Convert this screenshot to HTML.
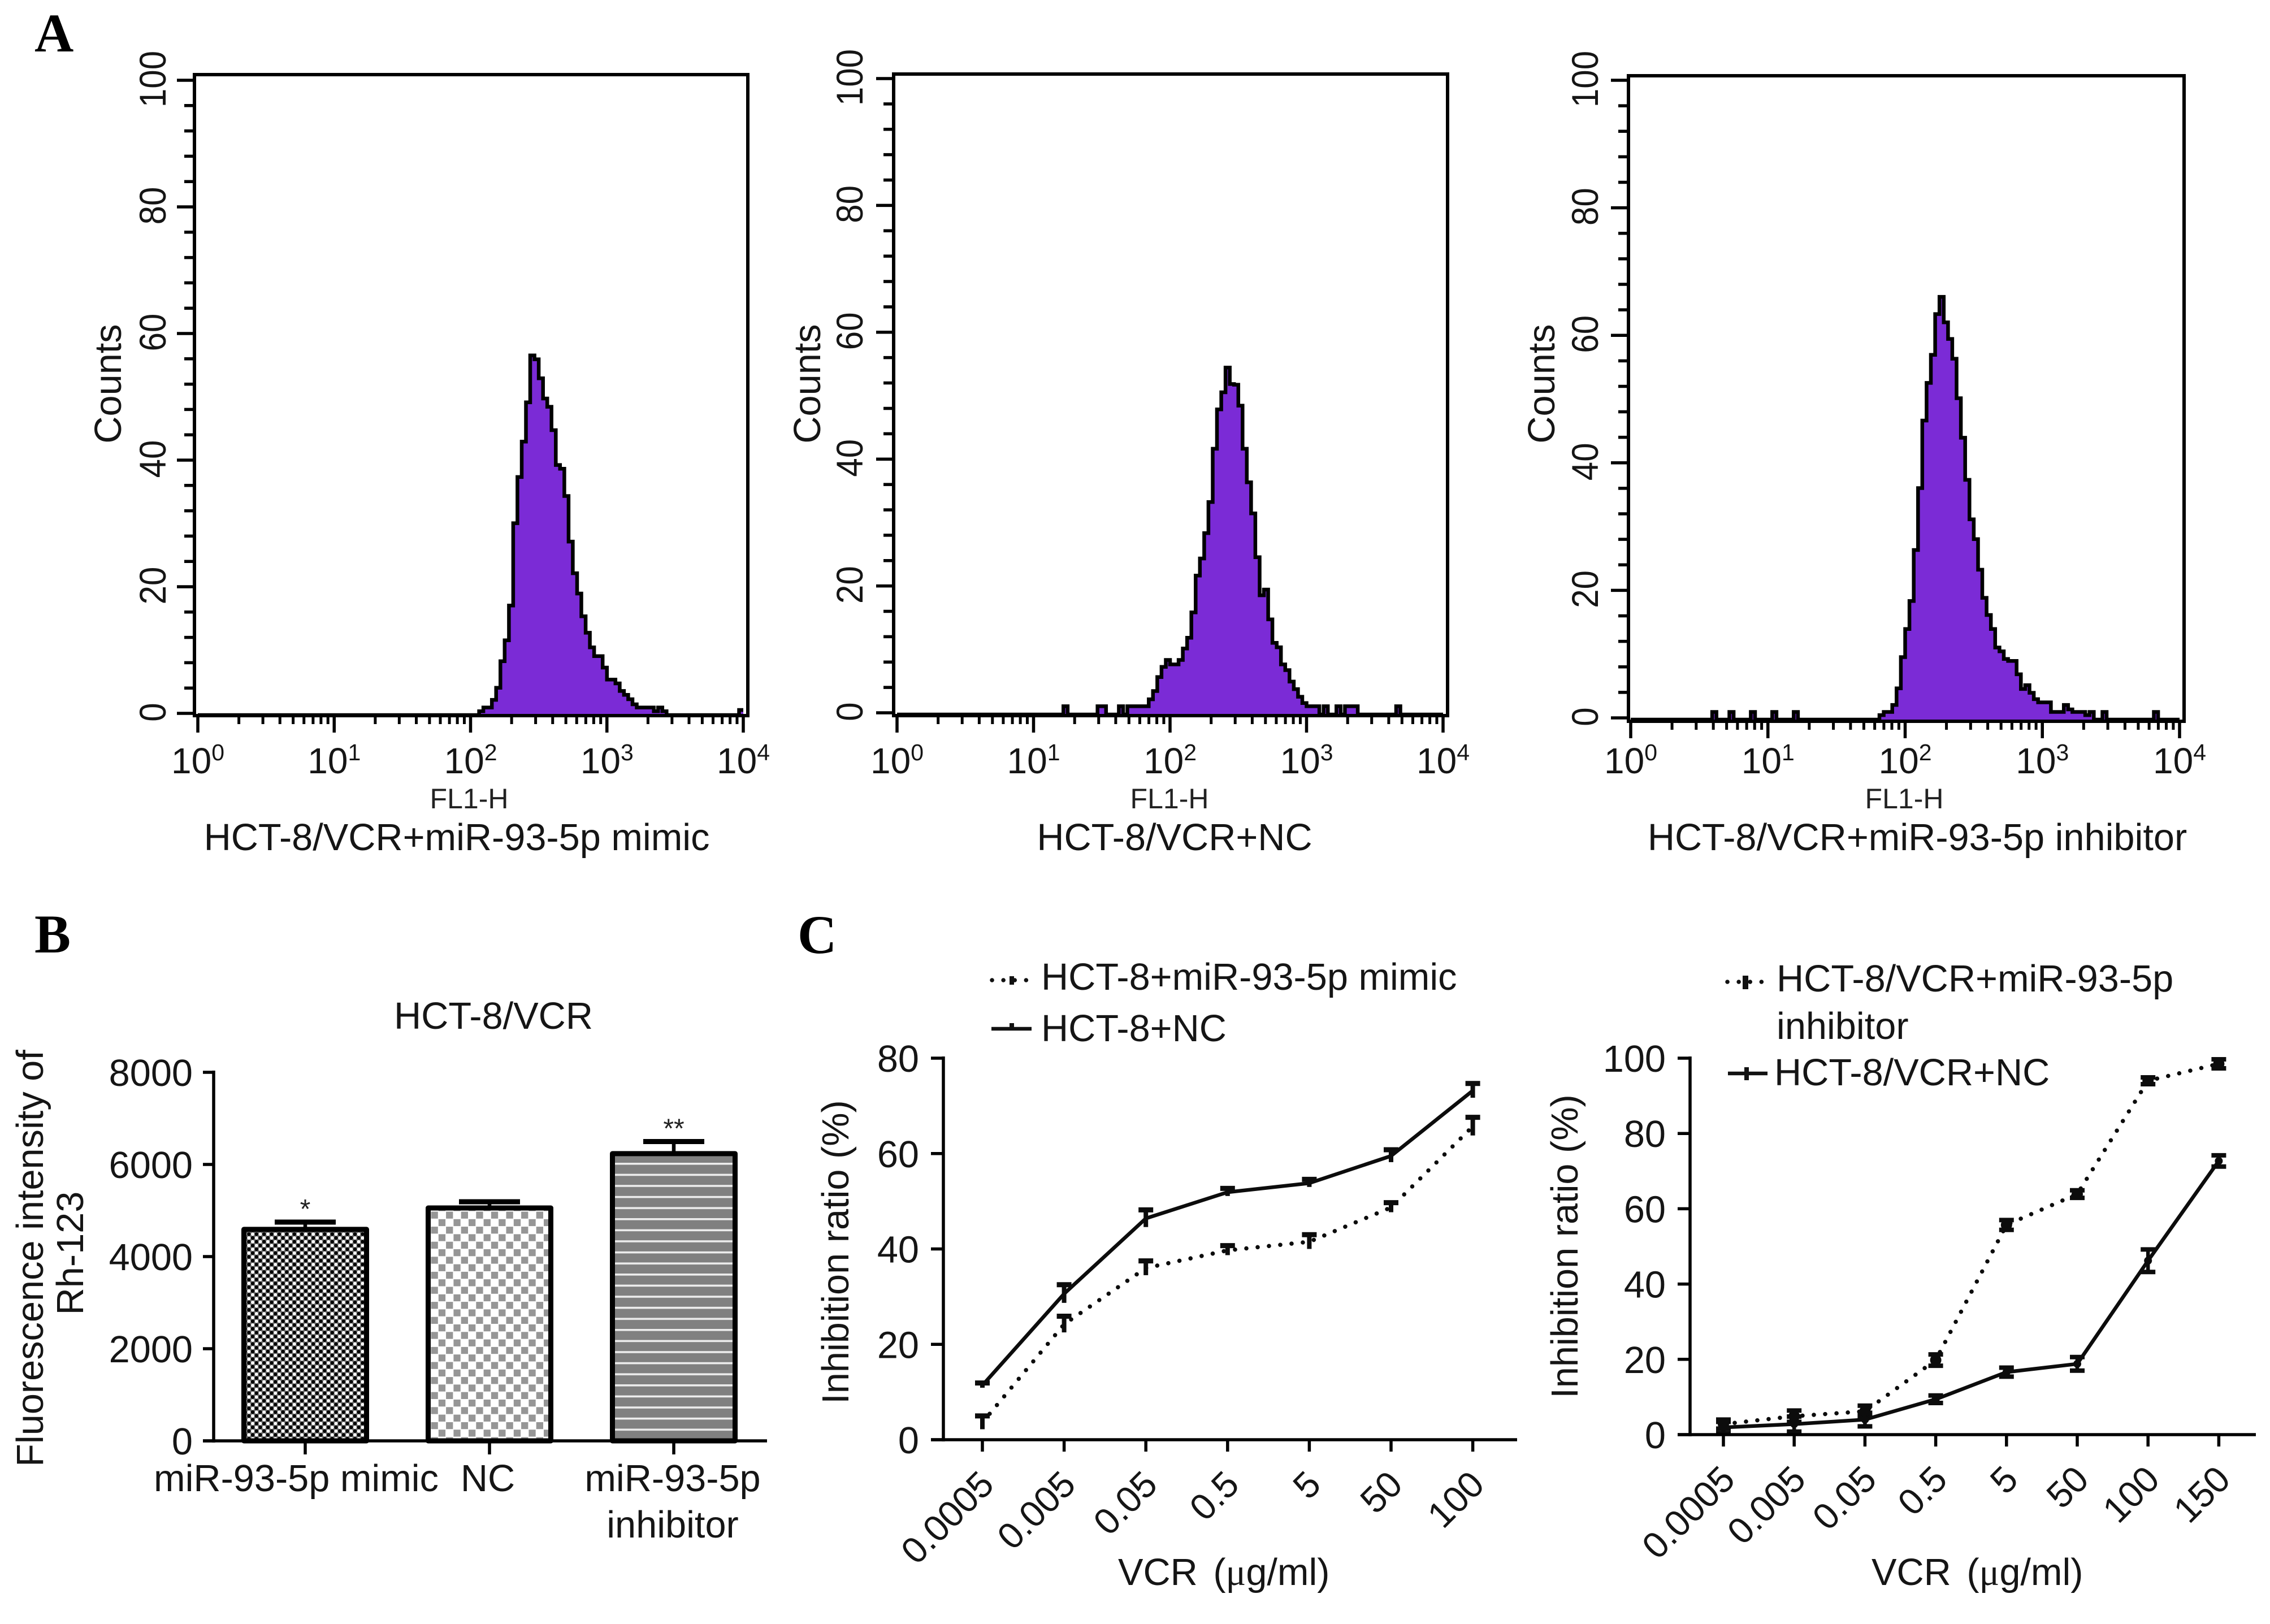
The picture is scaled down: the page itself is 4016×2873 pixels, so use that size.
<!DOCTYPE html>
<html>
<head>
<meta charset="utf-8">
<title>Flow cytometry, fluorescence and inhibition charts</title>
<style>
html,body{margin:0;padding:0;background:#fff;width:4016px;height:2873px;overflow:hidden}
svg{display:block}
text{font-family:"Liberation Sans",Arial,sans-serif;fill:#151515}
.l{font-size:66.7px}
.letter{font-family:"Liberation Serif",serif;font-weight:bold;font-size:96px;fill:#000}
.fl{font-size:50px;fill:#222}
.greek{font-family:"Liberation Serif",serif}
</style>
</head>
<body>
<svg id="figure" xmlns="http://www.w3.org/2000/svg" width="4016" height="2873" viewBox="0 0 4016 2873">
  <defs>
    <pattern id="pat-fine" patternUnits="userSpaceOnUse" width="13.4" height="13.4" x="437" y="2180">
      <rect width="13.4" height="13.4" fill="#6f6f6f"/>
      <circle cx="3.35" cy="3.35" r="3.2" fill="#000"/>
      <circle cx="10.05" cy="10.05" r="3.2" fill="#000"/>
      <circle cx="10.05" cy="3.35" r="3" fill="#fff"/>
      <circle cx="3.35" cy="10.05" r="3" fill="#fff"/>
    </pattern>
    <pattern id="pat-check" patternUnits="userSpaceOnUse" width="26.6" height="26.6" x="762" y="2143">
      <rect width="26.6" height="26.6" fill="#fff"/>
      <rect x="0.5" y="0.5" width="12.3" height="12.3" fill="#969696"/>
      <rect x="13.8" y="13.8" width="12.3" height="12.3" fill="#969696"/>
    </pattern>
    <pattern id="pat-stripe" patternUnits="userSpaceOnUse" width="10" height="19.6" x="0" y="2057">
      <rect width="10" height="19.6" fill="#808080"/>
      <rect y="0" width="10" height="3.6" fill="#ececec"/>
    </pattern>
  </defs>

  <g id="layer-hist"></g>
  <g id="layer-bar"></g>
  <g id="layer-line-left"></g>
  <g id="layer-line-right"></g>

  <text class="letter" x="61" y="91">A</text>
  <text class="letter" x="61" y="1685">B</text>
  <text class="letter" x="1411" y="1686">C</text>

  <text class="l" transform="translate(214 679) rotate(-90)" text-anchor="middle">Counts</text>
  <text class="l" transform="translate(1451 679) rotate(-90)" text-anchor="middle">Counts</text>
  <text class="l" transform="translate(2750 679) rotate(-90)" text-anchor="middle">Counts</text>

  <text class="fl" x="830" y="1430" text-anchor="middle">FL1-H</text>
  <text class="fl" x="2069" y="1430" text-anchor="middle">FL1-H</text>
  <text class="fl" x="3369" y="1430" text-anchor="middle">FL1-H</text>

  <text class="l" x="808" y="1504" text-anchor="middle">HCT-8/VCR+miR-93-5p mimic</text>
  <text class="l" x="2078" y="1504" text-anchor="middle">HCT-8/VCR+NC</text>
  <text class="l" x="3392" y="1504" text-anchor="middle">HCT-8/VCR+miR-93-5p inhibitor</text>

  <text class="l" x="873" y="1820" text-anchor="middle">HCT-8/VCR</text>
  <text class="l" transform="translate(76 2226) rotate(-90)" text-anchor="middle">Fluorescence intensity of</text>
  <text class="l" transform="translate(147 2217) rotate(-90)" text-anchor="middle">Rh-123</text>

  <text class="l" transform="translate(1501 2215) rotate(-90)" text-anchor="middle">Inhibition ratio (%)</text>
  <text class="l" transform="translate(2791 2205) rotate(-90)" text-anchor="middle">Inhibition ratio (%)</text>

  <text class="l" x="1978" y="2804">VCR <tspan dx="9">(</tspan><tspan class="greek">μ</tspan>g/ml)</text>
  <text class="l" x="3311" y="2804">VCR <tspan dx="9">(</tspan><tspan class="greek">μ</tspan>g/ml)</text>

  <text class="l" x="1842" y="1751">HCT-8+miR-93-5p mimic</text>
  <text class="l" x="1842" y="1842">HCT-8+NC</text>
  <text class="l" x="3143" y="1754">HCT-8/VCR+miR-93-5p</text>
  <text class="l" x="3143" y="1838">inhibitor</text>
  <text class="l" x="3139" y="1920">HCT-8/VCR+NC</text>

  <g>
    <line x1="1755" y1="1734" x2="1819" y2="1734" stroke="#111" stroke-width="7.5" stroke-dasharray="0.1 20" stroke-linecap="round"/>
    <line x1="1790" y1="1727" x2="1790" y2="1742" stroke="#111" stroke-width="8"/>
  </g>
  <g>
    <line x1="1754" y1="1820" x2="1825" y2="1820" stroke="#111" stroke-width="6.5"/>
    <line x1="1790" y1="1810" x2="1790" y2="1820" stroke="#111" stroke-width="8"/>
  </g>
  <g>
    <line x1="3056" y1="1737" x2="3117" y2="1737" stroke="#111" stroke-width="7.5" stroke-dasharray="0.1 20" stroke-linecap="round"/>
    <line x1="3088" y1="1726" x2="3088" y2="1750" stroke="#111" stroke-width="10"/>
  </g>
  <g>
    <line x1="3057" y1="1899" x2="3127" y2="1899" stroke="#111" stroke-width="6.5"/>
    <line x1="3090" y1="1888" x2="3090" y2="1911" stroke="#111" stroke-width="8"/>
  </g>
</svg>

<script>
/* ---------- Histogram data: counts per channel, 128 log channels over four decades ---------- */
const histMimicCounts = [
  0,0,0,0,0,0,0,0,0,0,
  0,0,0,0,0,0,0,0,0,0,
  0,0,0,0,0,0,0,0,0,0,
  0,0,0,0,0,0,0,0,0,0,
  0,0,0,0,0,0,0,0,0,0,
  0,0,0,0,0,0,0,0,0,0,
  0,0,0,0,0,0,0.6,1.2,1.2,2.4,
  4.3,8.5,11.8,17.3,30.3,37.6,43.2,49.4,56.8,56.2,
  53.2,50,48.7,45,39.5,38.9,34.6,27.4,22.4,19.2,
  15.6,13,10.7,9.3,9.3,7.5,5.6,5.6,5,3.8,
  3.2,2.5,1.7,1.2,1.2,1.2,1.2,0.6,1.2,0.6,
  0,0,0,0,0,0,0,0,0,0,
  0,0,0,0,0,0,0,0.8
];
const histNcCounts = [
  0,0,0,0,0,0,0,0,0,0,
  0,0,0,0,0,0,0,0,0,0,
  0,0,0,0,0,0,0,0,0,0,
  0,0,0,0,0,0,0,0,0,1.3,
  0,0,0,0,0,0,0,1.3,1.3,0,
  0,0,1.3,0,1.3,1.3,1.3,1.3,1.3,2.4,
  3.7,5.9,7.5,8.6,7.9,7.9,8.6,10.4,12.1,16.1,
  21.9,24.6,28.6,33.5,41.9,48.1,50.8,54.7,52.1,52,
  48.7,41.9,36.6,31.7,24.8,18.8,19.7,15,11.3,10.6,
  7.9,7,5.2,4,2.8,1.8,1.3,1.3,1.3,0,
  1.3,0,0,1.3,0,1.3,1.3,1.3,0,0,
  0,0,0,0,0,0,0,1.3,0,0,
  0,0,0,0,0,0,0,0
];
const histInhibitorCounts = [
  0,0,0,0,0,0,0,0,0,0,
  0,0,0,0,0,0,0,0,0,1.2,
  0,0,0,1.2,0,0,0,0,1.2,0,
  0,0,0,1.2,0,0,0,0,1.2,0,
  0,0,0,0,0,0,0,0,0,0,
  0,0,0,0,0,0,0,0,0.7,1.2,
  1.2,2.3,4.9,9.8,14.2,18.6,26.6,36.3,46.9,52.8,
  57.2,63.6,66.3,62.3,59.7,56.6,50.4,44.2,37.6,31.4,
  28.3,23.5,19.1,16.4,14.2,11.3,10.7,9.5,9.2,9.2,
  7.1,4.8,5.4,4.2,3.2,2.7,2.7,2.7,1.2,1.2,
  1.2,2.3,1.6,1.2,1.2,1.2,0.7,1.2,0,0,
  1.2,0,0,0,0,0,0,0,0,0,
  0,0,1.2,0,0,0,0,0
];
const histCountTicks = [0,20,40,60,80,100];
const histDecadeTicks = [0,1,2,3,4];

/* ---------- Bar chart data ---------- */
const barCategories = ["miR-93-5p mimic","NC","miR-93-5p inhibitor"];
const barMeans = [4590,5055,6235];
const barErrors = [158,135,262];
const barStars = ["*","","**"];
const barTicks = [0,2000,4000,6000,8000];

/* ---------- Line chart data ---------- */
const leftDoses = ["0.0005","0.005","0.05","0.5","5","50","100"];
const leftMimicMeans = [3.6,24.2,36,39.7,41.5,48.7,65.7];
const leftMimicErrors = [1.4,1.7,1.5,1.0,1.5,1.0,1.9];
const leftNcMeans = [11.4,30.6,46.4,51.9,53.8,59.5,73.2];
const leftNcErrors = [0.5,1.9,1.8,0.8,0.8,1.3,1.5];
const leftTicks = [0,20,40,60,80];

const rightDoses = ["0.0005","0.005","0.05","0.5","5","50","100","150"];
const rightInhibitorMeans = [2.8,4.9,6.2,19.8,55.7,63.9,94,98.5];
const rightInhibitorErrors = [1.2,1.5,1.5,1.5,1.3,1.0,0.9,1.2];
const rightNcMeans = [1.9,2.8,4,9.4,16.6,18.8,46.2,72.7];
const rightNcErrors = [1.5,2,1.8,1,1.2,1.8,3,1.5];
const rightTicks = [0,20,40,60,80,100];

const NS = "http://www.w3.org/2000/svg";
const INK = "#0c0c0c";

function mk(tag, attrs, parent) {
  const node = document.createElementNS(NS, tag);
  for (const key in attrs) node.setAttribute(key, attrs[key]);
  parent.appendChild(node);
  return node;
}

function drawHistogram(parent, counts, box) {
  const g = mk("g", {}, parent);
  
  
  const xScale = d => box.x0 + d * (box.x4 - box.x0) / 4;
  const yScale = v => box.y0 - v * (box.y0 - box.y100) / 100;
  const inset = 3;
  const binWidth = 1 / 32;

  let top = "";
  counts.forEach((v, i) => {
    const y = yScale(v) + inset;
    const a = xScale(i * binWidth);
    const b = xScale((i + 1) * binWidth);
    top += (i === 0 ? "M" : "L") + a.toFixed(1) + " " + y.toFixed(1) + " L" + b.toFixed(1) + " " + y.toFixed(1) + " ";
  });
  const base = yScale(0) + inset;
  let el = mk("path", {d: top + "L" + xScale(4) + " " + base + " L" + xScale(0) + " " + base + " Z", fill: "#7b2bd6", stroke: "none"}, g);
  
  
  el = mk("path", {d: top, fill: "none", stroke: "#000", "stroke-width": 6.5, "stroke-linejoin": "miter"}, g);
  
  

  el = mk("rect", {x: box.left, y: box.top, width: box.right - box.left, height: box.bottom - box.top, fill: "none", stroke: "#000", "stroke-width": 6}, g);
  
  

  for (let c = 0; c <= 100; c += 4) {
    const major = histCountTicks.indexOf(c) >= 0;
    const y = yScale(c);
    el = mk("line", {x1: box.left - (major ? 31 : 18), x2: box.left, y1: y, y2: y, stroke: "#000", "stroke-width": 5.5}, g);
    
    
  }
  histCountTicks.forEach(c => {
    el = mk("text", {transform: "translate(" + box.yLabel + " " + (yScale(c) - 2) + ") rotate(-90) scale(0.91 1)", "text-anchor": "middle", style: "font-size:66px"}, g);
    
    
    el.textContent = String(c);
  });

  histDecadeTicks.forEach(d => {
    const x = xScale(d);
    el = mk("line", {x1: x, x2: x, y1: box.bottom, y2: box.bottom + 30, stroke: "#000", "stroke-width": 5.5}, g);
    
    
    if (d < 4) {
      for (let m = 2; m <= 9; m++) {
        const xm = xScale(d + Math.log10(m));
        el = mk("line", {x1: xm, x2: xm, y1: box.bottom, y2: box.bottom + 15, stroke: "#000", "stroke-width": 5}, g);
        
        
      }
    }
    el = mk("text", {x: x, y: 1368, "text-anchor": "middle", style: "font-size:64px"}, g);
    
    
    el.appendChild(document.createTextNode("10"));
    const sup = mk("tspan", {dy: -23, style: "font-size:41px"}, el);
    sup.textContent = String(d);
  });
}

const histLayer = document.getElementById("layer-hist");
drawHistogram(histLayer, histMimicCounts, {name: "histogram-mimic", x0: 350, x4: 1315, y0: 1262, y100: 142, left: 344, right: 1323, top: 132, bottom: 1266, yLabel: 293});
drawHistogram(histLayer, histNcCounts, {name: "histogram-nc", x0: 1587, x4: 2553, y0: 1261, y100: 139, left: 1581, right: 2561, top: 131, bottom: 1266, yLabel: 1526});
drawHistogram(histLayer, histInhibitorCounts, {name: "histogram-inhibitor", x0: 2885, x4: 3856, y0: 1270, y100: 142, left: 2881, right: 3864, top: 134, bottom: 1276, yLabel: 2827});

/* ---------- Bar chart ---------- */
(function () {
  const parent = document.getElementById("layer-bar");
  const barY = v => 2549 - v * (2549 - 1897) / 8000;
  const barX = i => 540 + 326 * i;
  const halfWidth = 108.5;
  const fills = ["url(#pat-fine)", "url(#pat-check)", "url(#pat-stripe)"];
  let el;

  barMeans.forEach((v, i) => {
    const cx = barX(i);
    const y = barY(v);
    el = mk("rect", {x: cx - halfWidth, y: y, width: 2 * halfWidth, height: barY(0) - y, fill: fills[i], stroke: "#000", "stroke-width": 9, "stroke-linejoin": "round"}, parent);
    
    
    const errY = barY(v + barErrors[i]);
    el = mk("line", {x1: cx, x2: cx, y1: errY, y2: y, stroke: "#000", "stroke-width": 6.5}, parent);
    
    
    el = mk("line", {x1: cx - 54, x2: cx + 54, y1: errY, y2: errY, stroke: "#000", "stroke-width": 9}, parent);
    
    
    if (barStars[i]) {
      el = mk("text", {x: cx, y: errY - 7, "text-anchor": "middle", style: "font-size:48px;fill:#222"}, parent);
      
      
      el.textContent = barStars[i];
    }
    el = mk("line", {x1: cx, x2: cx, y1: barY(0), y2: barY(0) + 24, stroke: "#000", "stroke-width": 5.5}, parent);
    
    
  });

  el = mk("line", {x1: 378, x2: 378, y1: 1894, y2: 2552, stroke: "#000", "stroke-width": 5.5}, parent);
  
  
  el = mk("line", {x1: 359, x2: 1357, y1: 2549, y2: 2549, stroke: "#000", "stroke-width": 5.5}, parent);
  
  

  barTicks.forEach(t => {
    const y = barY(t);
    el = mk("line", {x1: 359, x2: 378, y1: y, y2: y, stroke: "#000", "stroke-width": 5.5}, parent);
    
    
    el = mk("text", {x: 341, y: y + 24, "text-anchor": "end", "class": "l"}, parent);
    
    
    el.textContent = String(t);
  });

  barCategories.forEach((label, i) => {
    const words = label === "miR-93-5p inhibitor" ? ["miR-93-5p", "inhibitor"] : [label];
    words.forEach((w, k) => {
      const shift = i === 0 ? -16 : (i === 1 ? -3 : -2);
      el = mk("text", {x: barX(i) + shift, y: 2638 + k * 82, "text-anchor": "middle", "class": "l"}, parent);
      
      
      el.textContent = w;
    });
  });
})();

/* ---------- Line charts ---------- */
function drawLineChart(parent, cfg) {
  const xPos = i => cfg.xFirst + i * cfg.xStep;
  const yPos = v => cfg.y0 - v * (cfg.y0 - cfg.yTop) / cfg.yMax;
  let el;

  cfg.series.forEach(s => {
    const pts = s.means.map((v, i) => xPos(i).toFixed(1) + "," + yPos(v).toFixed(1)).join(" ");
    const lineAttrs = s.dotted
      ? {points: pts, fill: "none", stroke: INK, "stroke-width": 7.5, "stroke-dasharray": "0.1 20", "stroke-linecap": "round"}
      : {points: pts, fill: "none", stroke: INK, "stroke-width": 6.5, "stroke-linejoin": "round"};
    el = mk("polyline", lineAttrs, parent);
    
    
    s.means.forEach((v, i) => {
      const x = xPos(i);
      const up = yPos(v + s.errors[i]);
      const down = yPos(v - s.errors[i]);
      el = mk("line", {x1: x, x2: x, y1: up, y2: down, stroke: INK, "stroke-width": cfg.stemWidth}, parent);
      
      
      el = mk("line", {x1: x - 13, x2: x + 13, y1: up, y2: up, stroke: INK, "stroke-width": cfg.capWidth}, parent);
      
      
      if (cfg.bothCaps) {
        el = mk("line", {x1: x - 13, x2: x + 13, y1: down, y2: down, stroke: INK, "stroke-width": cfg.capWidth}, parent);
        
        
      }
      if (s.pointRadius) {
        el = mk("circle", {cx: x, cy: yPos(v), r: s.pointRadius, fill: INK}, parent);
        
        
      }
    });
  });

  el = mk("line", {x1: cfg.axisX, x2: cfg.axisX, y1: cfg.yTop - 3, y2: cfg.y0 + 3, stroke: "#000", "stroke-width": 5.5}, parent);
  
  
  el = mk("line", {x1: cfg.axisX - 22, x2: cfg.xEnd, y1: cfg.y0, y2: cfg.y0, stroke: "#000", "stroke-width": 5.5}, parent);
  
  

  cfg.ticks.forEach(t => {
    const y = yPos(t);
    el = mk("line", {x1: cfg.axisX - 22, x2: cfg.axisX, y1: y, y2: y, stroke: "#000", "stroke-width": 5.5}, parent);
    
    
    el = mk("text", {x: cfg.axisX - 43, y: y + 24, "text-anchor": "end", "class": "l"}, parent);
    
    
    el.textContent = String(t);
  });

  cfg.doses.forEach((d, i) => {
    const x = xPos(i);
    el = mk("line", {x1: x, x2: x, y1: cfg.y0, y2: cfg.y0 + 21, stroke: "#000", "stroke-width": 5.5}, parent);
    
    
    const lx = x + 24;
    const ly = cfg.y0 + 83;
    el = mk("text", {x: lx, y: ly, "text-anchor": "end", transform: "rotate(-45 " + lx + " " + ly + ")", style: "font-size:65px"}, parent);
    
    
    el.textContent = d;
  });
}

drawLineChart(document.getElementById("layer-line-left"), {
  xFirst: 1738, xStep: 144.6, y0: 2547, yTop: 1872, yMax: 80, axisX: 1669, xEnd: 2684,
  ticks: leftTicks, doses: leftDoses, bothCaps: false, stemWidth: 8, capWidth: 9,
  series: [
    {name: "mimic", means: leftMimicMeans, errors: leftMimicErrors, dotted: true},
    {name: "nc", means: leftNcMeans, errors: leftNcErrors, dotted: false}
  ]
});
drawLineChart(document.getElementById("layer-line-right"), {
  xFirst: 3049, xStep: 125.2, y0: 2538, yTop: 1872, yMax: 100, axisX: 2990, xEnd: 3991,
  ticks: rightTicks, doses: rightDoses, bothCaps: true, stemWidth: 6.5, capWidth: 8,
  series: [
    {name: "inhibitor", means: rightInhibitorMeans, errors: rightInhibitorErrors, dotted: true, pointRadius: 10},
    {name: "nc", means: rightNcMeans, errors: rightNcErrors, dotted: false, pointRadius: 7}
  ]
});
</script>
</body>
</html>
